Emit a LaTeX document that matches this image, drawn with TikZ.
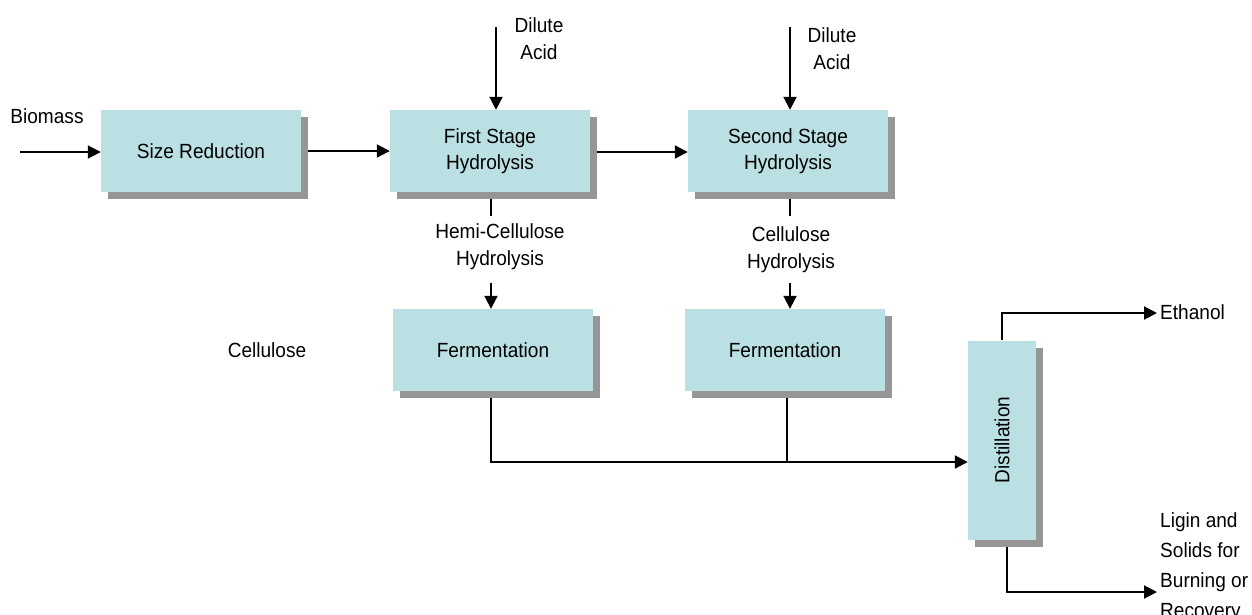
\documentclass[tikz,border=0pt]{standalone}
\usepackage{fontspec}
\setmainfont[FakeStretch=0.93]{Liberation Sans}
\usetikzlibrary{arrows.meta,shadows,backgrounds}
\definecolor{boxfill}{HTML}{BBE0E3}
\definecolor{shadowgray}{HTML}{969696}
\tikzset{
  procbox/.style={fill=boxfill, minimum width=200pt, minimum height=82pt,
    inner sep=0pt, align=center, font=\fontsize{20.5}{26}\selectfont,
    drop shadow={shadow xshift=7pt, shadow yshift=-7pt, fill=shadowgray, opacity=1}},
  lbl/.style={inner sep=0pt, align=center, font=\fontsize{20.5}{27}\selectfont},
  flow/.style={line width=2pt, -{Triangle[length=13pt,width=13pt]}},
  plain/.style={line width=2pt}
}
\begin{document}
\begin{tikzpicture}[x=1pt, y=-1pt]
\useasboundingbox (0,0) rectangle (1252,614);

% process blocks
\node[procbox] (size) at (201,151) {Size Reduction};
\node[procbox] (first) at (490,151) {First Stage\\Hydrolysis};
\node[procbox] (second) at (788,151) {Second Stage\\Hydrolysis};
\node[procbox] (ferm1) at (493,350) {Fermentation};
\node[procbox] (ferm2) at (785,350) {Fermentation};
\node[procbox, minimum width=68pt, minimum height=199pt] (dist) at (1002,440)
  {\rotatebox{90}{Distillation}};

% labels
\node[lbl] (biomass) at (47,116) {Biomass};
\node[lbl] (acid1) at (539,39) {Dilute\\Acid};
\node[lbl] (acid2) at (832,49) {Dilute\\Acid};
\node[lbl] (hemi) at (500,247) {Hemi-Cellulose\\Hydrolysis};
\node[lbl] (cell) at (791,250) {Cellulose\\Hydrolysis};
\node[lbl] (cellulose) at (267,350) {Cellulose};
\node[lbl, anchor=west] (ethanol) at (1160,312) {Ethanol};
\node[lbl, anchor=north west, align=left, font=\fontsize{20.5}{30}\selectfont]
  (lignin) at (1160,512) {Ligin and\\Solids for\\Burning or\\Recovery};

% free ends of the feed and product streams
\coordinate (feed) at (20,152);
\coordinate (acidtop1) at (496,27);
\coordinate (acidtop2) at (790,27);
\coordinate (join) at (491,462);
\coordinate (ethend) at (1157,313);
\coordinate (ligend) at (1157,592);

\begin{scope}[on background layer]
  \draw[flow] (feed) -- (size.west |- feed);
  \draw[flow] (size.east) -- (first.west);
  \draw[flow] ([yshift=-1pt]first.east) -- ([yshift=-1pt]second.west);
  \draw[flow] (acidtop1) -- (acidtop1 |- first.north);
  \draw[flow] (acidtop2) -- (acidtop2 |- second.north);
  % hydrolysate streams down to fermentation
  \draw[plain] ([xshift=1pt]first.south) -- ++(0,24);
  \draw[flow] ([xshift=1pt]first.south) ++(0,91) -- ([xshift=1pt]first.south |- ferm1.north);
  \draw[plain] ([xshift=2pt]second.south) -- ++(0,24);
  \draw[flow] ([xshift=2pt]second.south) ++(0,91) -- ([xshift=2pt]second.south |- ferm2.north);
  % beer streams to distillation
  \draw[flow] (join |- ferm1.south) -- (join) -- (dist.west |- join);
  \draw[plain] ([xshift=2pt]ferm2.south) -- ([xshift=2pt]ferm2.south |- join);
  % products
  \draw[flow] (dist.north) -- (dist.north |- ethend) -- (ethend);
  \draw[flow] ([xshift=5pt]dist.south) -- ([xshift=5pt]dist.south |- ligend) -- (ligend);
\end{scope}
\end{tikzpicture}
\end{document}
